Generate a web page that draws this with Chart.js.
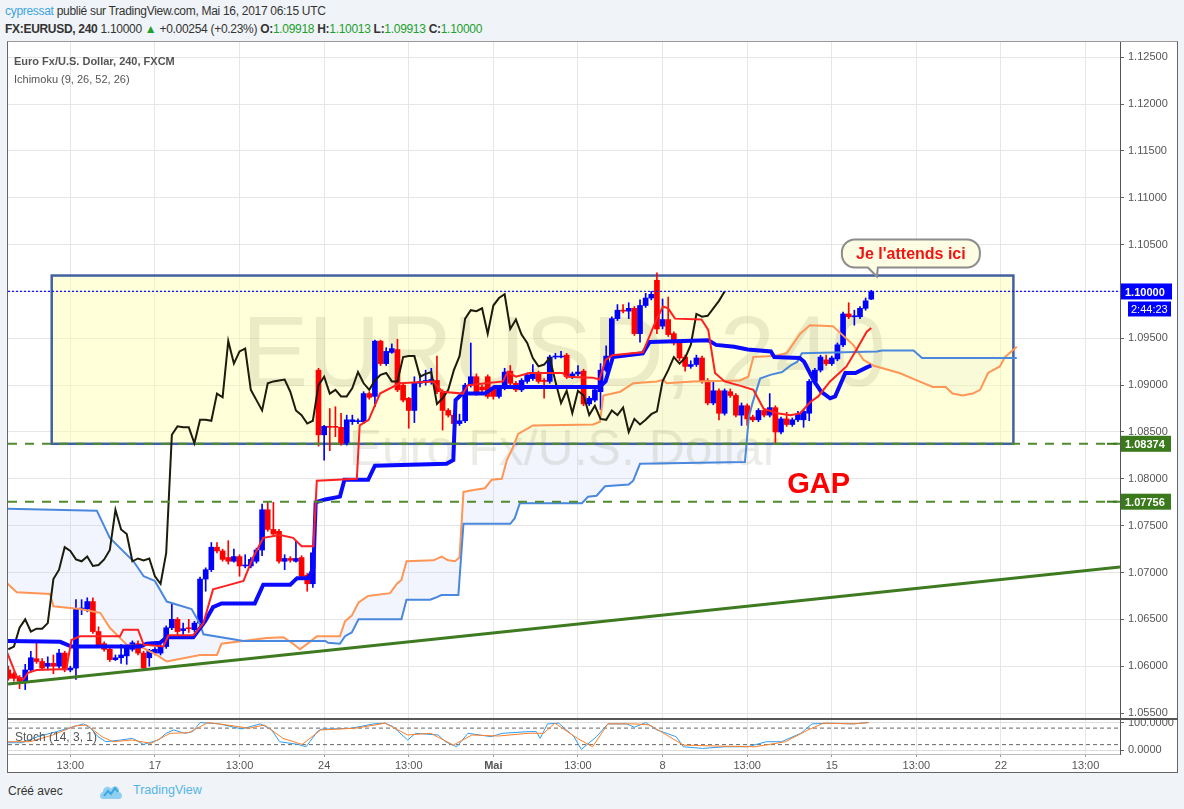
<!DOCTYPE html>
<html lang="fr">
<head>
<meta charset="UTF-8">
<title>EURUSD 240 - Ichimoku</title>
<script src="https://cdn.jsdelivr.net/npm/chart.js"></script>
<style>
    body {
        margin: 0;
        width: 1184px;
        height: 809px;
        background: #f0f3f7;
        font-family: Arial, "Liberation Sans", sans-serif;
        color: #333;
        position: relative;
        overflow: hidden;
    }
    .abs { position: absolute; white-space: nowrap; }
    .g { color: #22a02c; }
    .hdr { font-size: 12px; letter-spacing: -0.3px; }
    #frame {
        left: 7px; top: 41px; width: 1171px; height: 732px;
        background: #fff; border: 1px solid #666; border-top-color: #999; box-sizing: border-box;
    }
    #mainChart { left: 0; top: 0; z-index: 2; }
    #stochChart { left: 0; top: 700px; z-index: 3; }
    #sep { left: 7px; top: 718px; width: 1171px; height: 2px; background: #555; z-index: 4; }
    .lbl { z-index: 5; color: #555; font-size: 11px; }
</style>
</head>
<body>
    <div class="abs hdr" style="left:5px;top:4px;"><span style="color:#3ba5df">cypressat</span> publié sur TradingView.com, Mai 16, 2017 06:15 UTC</div>
    <div class="abs hdr" style="left:5px;top:22px;"><b>FX:EURUSD, 240</b> 1.10000 <span class="g">▲</span> +0.00254 (+0.23%) <b>O:</b><span class="g">1.09918</span> <b>H:</b><span class="g">1.10013</span> <b>L:</b><span class="g">1.09913</span> <b>C:</b><span class="g">1.10000</span></div>

    <div id="frame" class="abs"></div>
    <canvas id="mainChart" class="abs" width="1184" height="740"></canvas>
    <canvas id="stochChart" class="abs" width="1184" height="80"></canvas>
    <div id="sep" class="abs"></div>

    <div class="abs lbl" style="left:14px;top:55px;font-weight:bold;">Euro Fx/U.S. Dollar, 240, FXCM</div>
    <div class="abs lbl" style="left:14px;top:73px;">Ichimoku (9, 26, 52, 26)</div>
    <div class="abs lbl" style="left:15px;top:730px;font-size:12px;">Stoch (14, 3, 1)</div>

    <div class="abs" style="left:8px;top:784px;font-size:12px;color:#333;">Créé avec</div>
    <svg class="abs" style="left:99px;top:782px;" width="24" height="18" viewBox="0 0 24 18">
        <path d="M4 17 C0 17 0 11 4 10 C4 5 10 3 12 7 C14 3 21 4 20 10 C24 11 24 17 20 17 Z" fill="#8fd0f2"/>
        <path d="M5 14 L9 9 L12 12 L16 6 L19 10" stroke="#3aa6e0" stroke-width="2" fill="none"/>
    </svg>
    <div class="abs" style="left:133px;top:783px;font-size:12.5px;color:#55b5e6;">TradingView</div>

    <script>
        // x axis = bar index (4h bars, weekends skipped)
        const tickBars = [11, 26, 41, 56, 71, 86, 101, 116, 131, 146, 161, 176, 191];
        const tickLabels = ['13:00', '17', '13:00', '24', '13:00', 'Mai', '13:00', '8', '13:00', '15', '13:00', '22', '13:00'];

        const open = [
            1.0596, 1.0592, 1.0588, 1.0584, 1.0596, 1.0608, 1.0605, 1.0600, 1.0603, 1.0600,
            1.0614, 1.0596, 1.0598, 1.0661, 1.0661, 1.0669, 1.0637, 1.0624, 1.0618, 1.0607,
            1.0609, 1.0611, 1.0618, 1.0624, 1.0614, 1.0609, 1.0614, 1.0614, 1.0621, 1.0641,
            1.0650, 1.0638, 1.0641, 1.0639, 1.0646, 1.0693, 1.0703, 1.0727, 1.0723, 1.0716,
            1.0712, 1.0717, 1.0707, 1.0707, 1.0712, 1.0724, 1.0767, 1.0746, 1.0744, 1.0712,
            1.0715, 1.0712, 1.0716, 1.0697, 1.0688, 1.0916, 1.0847, 1.0856, 1.0856, 1.0855,
            1.0838, 1.0861, 1.0861, 1.0861, 1.0891, 1.0888, 1.0947, 1.0923, 1.0935, 1.0938,
            1.0900, 1.0886, 1.0873, 1.0902, 1.0903, 1.0904, 1.0905, 1.0893, 1.0873, 1.0868,
            1.0859, 1.0862, 1.0900, 1.0909, 1.0898, 1.0909, 1.0897, 1.0888, 1.0897, 1.0915,
            1.0902, 1.0895, 1.0904, 1.0907, 1.0913, 1.0905, 1.0904, 1.0930, 1.0930, 1.0932,
            1.0909, 1.0912, 1.0915, 1.0880, 1.0884, 1.0893, 1.0916, 1.0930, 1.0971, 1.0980,
            1.0979, 1.0982, 1.0955, 1.0985, 1.0993, 1.1012, 1.0963, 1.0970, 1.0955, 1.0945,
            1.0930, 1.0920, 1.0922, 1.0929, 1.0905, 1.0881, 1.0894, 1.0870, 1.0893, 1.0889,
            1.0868, 1.0878, 1.0866, 1.0863, 1.0873, 1.0868, 1.0876, 1.0850, 1.0864, 1.0858,
            1.0863, 1.0863, 1.0870, 1.0904, 1.0916, 1.0927, 1.0923, 1.0928, 1.0943, 1.0976,
            1.0973, 1.0973, 1.0982, 1.09918
        ];
        const high = [
            1.0600, 1.0594, 1.0590, 1.0602, 1.0616, 1.0627, 1.0608, 1.0610, 1.0612, 1.0618,
            1.0616, 1.0600, 1.0671, 1.0671, 1.0673, 1.0673, 1.0642, 1.0626, 1.0620, 1.0612,
            1.0623, 1.0623, 1.0627, 1.0627, 1.0616, 1.0618, 1.0620, 1.0623, 1.0643, 1.0666,
            1.0652, 1.0646, 1.0650, 1.0648, 1.0695, 1.0705, 1.0732, 1.0732, 1.0725, 1.0734,
            1.0725, 1.0719, 1.0719, 1.0716, 1.0726, 1.0773, 1.0775, 1.0775, 1.0746, 1.0719,
            1.0717, 1.0734, 1.0718, 1.0699, 1.0725, 1.0918, 1.0857, 1.0875, 1.0877, 1.0870,
            1.0868, 1.0868, 1.0864, 1.0893, 1.0893, 1.0948, 1.0948, 1.0940, 1.0944, 1.0949,
            1.0902, 1.0887, 1.0909, 1.0912, 1.0916, 1.0918, 1.0931, 1.0895, 1.0875, 1.0870,
            1.0869, 1.0902, 1.0945, 1.0912, 1.0900, 1.0911, 1.0899, 1.0899, 1.0918, 1.0921,
            1.0904, 1.0907, 1.0913, 1.0922, 1.0915, 1.0907, 1.0932, 1.0934, 1.0936, 1.0934,
            1.0914, 1.0921, 1.0917, 1.0888, 1.0897, 1.0923, 1.0942, 1.0973, 1.0986, 1.0986,
            1.0988, 1.0984, 1.0991, 1.0998, 1.1000, 1.1020, 1.0992, 1.0994, 1.0957, 1.0947,
            1.0932, 1.0926, 1.0932, 1.0931, 1.0907, 1.0904, 1.0896, 1.0896, 1.0896, 1.0891,
            1.0881, 1.0880, 1.0868, 1.0875, 1.0875, 1.0891, 1.0878, 1.0866, 1.0871, 1.0865,
            1.0872, 1.0874, 1.0906, 1.0918, 1.0932, 1.0932, 1.0931, 1.0945, 1.0978, 1.0988,
            1.0980, 1.0984, 1.0993, 1.10013
        ];
        const low = [
            1.0585, 1.0584, 1.0576, 1.0575, 1.0594, 1.0603, 1.0596, 1.0596, 1.0592, 1.0598,
            1.0594, 1.0594, 1.0586, 1.0655, 1.0658, 1.0635, 1.0621, 1.0616, 1.0605, 1.0606,
            1.0603, 1.0602, 1.0616, 1.0612, 1.0596, 1.0600, 1.0612, 1.0612, 1.0619, 1.0639,
            1.0634, 1.0634, 1.0636, 1.0637, 1.0644, 1.0680, 1.0701, 1.0721, 1.0712, 1.0709,
            1.0711, 1.0696, 1.0705, 1.0705, 1.0710, 1.0718, 1.0744, 1.0739, 1.0710, 1.0703,
            1.0711, 1.0711, 1.0694, 1.0680, 1.0684, 1.0835, 1.0820, 1.0830, 1.0845, 1.0836,
            1.0836, 1.0858, 1.0859, 1.0859, 1.0885, 1.0877, 1.0921, 1.0921, 1.0934, 1.0893,
            1.0882, 1.0854, 1.0860, 1.0898, 1.0900, 1.0901, 1.0891, 1.0852, 1.0866, 1.0857,
            1.0857, 1.0860, 1.0898, 1.0889, 1.0893, 1.0886, 1.0885, 1.0886, 1.0895, 1.0900,
            1.0893, 1.0893, 1.0902, 1.0905, 1.0902, 1.0886, 1.0902, 1.0928, 1.0929, 1.0907,
            1.0907, 1.0910, 1.0878, 1.0878, 1.0882, 1.0874, 1.0914, 1.0928, 1.0969, 1.0977,
            1.0971, 1.0953, 1.0946, 1.0983, 1.0991, 1.0955, 1.0960, 1.0952, 1.0943, 1.0926,
            1.0915, 1.0918, 1.0920, 1.0902, 1.0879, 1.0879, 1.0863, 1.0868, 1.0887, 1.0866,
            1.0857, 1.0857, 1.0861, 1.0861, 1.0866, 1.0866, 1.0838, 1.0848, 1.0856, 1.0856,
            1.0861, 1.0855, 1.0862, 1.0902, 1.0914, 1.0921, 1.0921, 1.0926, 1.0941, 1.0971,
            1.0964, 1.0971, 1.0980, 1.09913
        ];
        const close = [
            1.0587, 1.0587, 1.0584, 1.0596, 1.0609, 1.0605, 1.0598, 1.0603, 1.0600, 1.0614,
            1.0596, 1.0598, 1.0661, 1.0662, 1.0669, 1.0637, 1.0623, 1.0618, 1.0607, 1.0609,
            1.0612, 1.0621, 1.0625, 1.0614, 1.0598, 1.0617, 1.0618, 1.0621, 1.0641, 1.0650,
            1.0637, 1.0640, 1.0640, 1.0646, 1.0693, 1.0703, 1.0727, 1.0723, 1.0714, 1.0712,
            1.0717, 1.0707, 1.0708, 1.0714, 1.0724, 1.0767, 1.0746, 1.0741, 1.0712, 1.0715,
            1.0713, 1.0715, 1.0696, 1.0688, 1.0721, 1.0847, 1.0856, 1.0855, 1.0855, 1.0838,
            1.0863, 1.0863, 1.0862, 1.0891, 1.0887, 1.0947, 1.0923, 1.0936, 1.0939, 1.0895,
            1.0884, 1.0873, 1.0902, 1.0904, 1.0905, 1.0906, 1.0893, 1.0873, 1.0868, 1.0859,
            1.0862, 1.0900, 1.0909, 1.0891, 1.0895, 1.0888, 1.0888, 1.0897, 1.0914, 1.0902,
            1.0895, 1.0905, 1.0911, 1.0913, 1.0904, 1.0904, 1.0930, 1.0931, 1.0931, 1.0909,
            1.0912, 1.0914, 1.0880, 1.0886, 1.0895, 1.0916, 1.0931, 1.0971, 1.0980, 1.0979,
            1.0982, 1.0955, 1.0985, 1.0993, 1.0997, 1.0960, 1.0970, 1.0954, 1.0945, 1.0929,
            1.0920, 1.0922, 1.0929, 1.0904, 1.0881, 1.0894, 1.0870, 1.0894, 1.0889, 1.0868,
            1.0878, 1.0864, 1.0863, 1.0873, 1.0868, 1.0876, 1.0850, 1.0864, 1.0858, 1.0863,
            1.0869, 1.0872, 1.0904, 1.0916, 1.0930, 1.0923, 1.0929, 1.0943, 1.0976, 1.0973,
            1.0974, 1.0982, 1.0990, 1.10000
        ];

        // Ichimoku lines, [bar, price]
        const tenkan = [[-0.3,1.0616],[1.5,1.0589],[2.7,1.0586],[3.5,1.0593],[5,1.0596],[10.3,1.0597],[11.2,1.0628],[12.7,1.0632],[19.8,1.0632],[20.4,1.0639],[23,1.0639],[24,1.0623],[27.5,1.0621],[28.4,1.0633],[32.8,1.0633],[34.6,1.0646],[36.3,1.0682],[38.7,1.0686],[41.7,1.0691],[43.4,1.0716],[45.2,1.0737],[48.2,1.0740],[50.5,1.0737],[52,1.0728],[54.1,1.0728],[54.7,1.0798],[61.8,1.0800],[62.3,1.0857],[63.9,1.0863],[65.9,1.0891],[69.4,1.0902],[75.3,1.0904],[77,1.0893],[80.6,1.0891],[81.5,1.0900],[84.7,1.0902],[87.7,1.0904],[88.5,1.0914],[90,1.0909],[92.4,1.0913],[98.3,1.0913],[98.9,1.0909],[103.6,1.0908],[104.8,1.0906],[105.9,1.0927],[107.1,1.0932],[110.6,1.0934],[112.5,1.0935],[114.9,1.0970],[116.1,1.0984],[117,1.0982],[118.2,1.0971],[122.9,1.0970],[124.1,1.0959],[125.3,1.0913],[127,1.0904],[130,1.0899],[132.1,1.0895],[133.9,1.0875],[136.3,1.0870],[138.7,1.0868],[140.4,1.0870],[142.2,1.0882],[143.6,1.0888],[145.7,1.0904],[148.6,1.0920],[150.4,1.0938],[152.2,1.0957],[153,1.0961]];
        const kijun = [[-0.3,1.0627],[9.2,1.0626],[11.2,1.0621],[23.4,1.0621],[24.5,1.0624],[26.9,1.0625],[28.1,1.0631],[32.8,1.0631],[34.9,1.0648],[36.3,1.0663],[37.8,1.0667],[43.7,1.0667],[45.2,1.0687],[50,1.0687],[51.2,1.0694],[53.2,1.0694],[54.1,1.0705],[54.5,1.0775],[56.2,1.0778],[58.8,1.0781],[59.6,1.0799],[63.8,1.0799],[65,1.0814],[77.7,1.0816],[78.9,1.0820],[79.3,1.0884],[80.5,1.0891],[84.5,1.0891],[86.2,1.0898],[104.8,1.0898],[105.9,1.0904],[107.2,1.0930],[112.5,1.0934],[113.7,1.0946],[124.1,1.0948],[125.5,1.0943],[128.7,1.0941],[131.1,1.0938],[135.2,1.0936],[135.8,1.0930],[140.3,1.0929],[141.1,1.0925],[142.9,1.0904],[144.1,1.0893],[145.7,1.0886],[146.6,1.0888],[148.4,1.0913],[150.2,1.0913],[152.2,1.0919],[153,1.0921]];
        const senkouA = [[-0.3,1.0689],[1.5,1.0679],[7.4,1.0677],[8,1.0664],[12.7,1.0661],[16.3,1.0657],[18,1.0641],[21,1.0623],[23.4,1.0621],[26.3,1.0612],[28.1,1.0605],[34,1.0612],[37,1.0612],[37.8,1.0624],[45.8,1.0630],[48.8,1.0631],[50.5,1.0624],[51.7,1.0618],[53.5,1.0626],[54.7,1.0632],[58.8,1.0632],[59.7,1.0648],[60.9,1.0654],[62.1,1.0668],[63.8,1.0675],[67.7,1.0678],[68.9,1.0688],[69.7,1.0692],[70.6,1.0712],[75.4,1.0713],[76.8,1.0717],[78,1.0713],[79.2,1.0712],[80,1.0716],[80.7,1.0786],[82.5,1.0788],[84.5,1.0790],[85.7,1.0799],[87.5,1.0800],[88.4,1.0820],[89.5,1.0834],[90.4,1.0848],[93,1.0857],[103.7,1.0858],[104.9,1.0861],[105.5,1.0889],[108.5,1.0893],[110.8,1.0902],[115,1.0904],[116.1,1.0906],[116.7,1.0902],[121.4,1.0904],[129.7,1.0905],[131.2,1.0909],[132.1,1.0930],[135.6,1.0931],[138,1.0934],[140.4,1.0955],[142.1,1.0964],[146.2,1.0963],[149.8,1.0943],[151.6,1.0927],[153.3,1.0921],[158,1.0913],[161.5,1.0904],[163.9,1.0898],[166.2,1.0898],[167.4,1.0891],[169.2,1.0889],[171,1.0891],[172.3,1.0895],[173.7,1.0913],[175.8,1.0920],[176.7,1.0930],[178.8,1.0941]];
        const senkouB = [[-0.3,1.0768],[15.7,1.0766],[18,1.0737],[22.2,1.0712],[24,1.0696],[26,1.0691],[28.1,1.0669],[32.5,1.0661],[34,1.0645],[34.6,1.0634],[41.7,1.0627],[56.2,1.0627],[56.7,1.0625],[58.8,1.0624],[59.7,1.0632],[60.9,1.0636],[62.1,1.0650],[69.7,1.0650],[70.6,1.0671],[74.8,1.0671],[75.7,1.0673],[76.8,1.0676],[79.8,1.0676],[80.7,1.0752],[89,1.0752],[89.8,1.0758],[90.7,1.0774],[101.7,1.0774],[102.8,1.0781],[104.3,1.0782],[105.8,1.0792],[110,1.0794],[110.8,1.0798],[112,1.0816],[130.6,1.0818],[131.3,1.0866],[131.9,1.0880],[133.3,1.0907],[135.1,1.0911],[137.2,1.0914],[138.7,1.0921],[139.9,1.0925],[140.7,1.0934],[154,1.0936],[154.9,1.0937],[160.5,1.0937],[162,1.0929],[178.8,1.0929]];
        const chikouShift = 26;

        const trendLine = [[-0.05, 1.0581], [197.1, 1.0706]];
        const levels = [1.08374, 1.07756];
        const lastPrice = 1.10000;
        const boxBars = [7.7, 178.2];
        const boxPrices = [1.08374, 1.1017];

        // Stochastic (14, 3, 1), [bar, value]
        const stochK = [[-0.1,26.9],[2.5,26.9],[5.2,48.9],[8.6,67.2],[10.6,79.4],[13.3,95.3],[14.6,79.4],[15.9,48.9],[17.3,30.6],[19.9,36.7],[22,42.8],[24,20.8],[26.6,36.7],[28,61.1],[29.3,73.3],[31.3,61.1],[32.7,67.2],[34,100],[37.4,95.3],[41.4,77],[44.7,95.3],[46.7,73.3],[48.1,30.6],[51.4,20.8],[52.8,12.3],[54.8,67.2],[55.4,75.8],[60.8,79.4],[64.8,95.3],[66.8,97.7],[68.2,85.5],[70.8,36.7],[72.2,61.1],[76.2,55],[77.5,30.6],[79.5,12.3],[81.5,61.1],[85.6,48.9],[87.6,61.1],[92.3,67.2],[93.6,67.2],[94.3,42.8],[95.6,95.3],[97.6,97.7],[100.3,48.9],[101.6,2.5],[104.3,48.9],[106.3,95.3],[109.7,95.3],[111,83],[113,100],[115,73.3],[118.4,48.9],[119.7,12.3],[123.1,6.2],[127.1,12.3],[131.1,12.3],[134.4,30.6],[137.1,30.6],[140.5,61.1],[142.5,95.3],[145.8,97.7],[149.8,95.3],[152.5,100]];
        const stochD = [[-0.1,30.6],[3.9,30.6],[7.9,55],[11.9,88],[13.9,91.6],[16.6,48.9],[18.6,30.6],[22,36.7],[25.3,24.5],[28.7,61.1],[32,63.5],[35.4,100],[38.7,91.6],[42.7,79.4],[45.4,91.6],[48.7,42.8],[52.1,20.8],[55.4,73.3],[61.5,79.4],[66.8,97.7],[70.8,55],[74.9,61.1],[78.9,18.4],[82.2,55],[86.9,51.3],[92.3,61.1],[94.9,61.1],[96.9,97.7],[100.9,42.8],[103.6,12.3],[106.3,95.3],[111,95.3],[113.7,91.6],[119.7,18.4],[125.7,14.7],[132.4,12.3],[137.8,30.6],[141.8,73.3],[144.5,97.7],[149.8,95.3],[152.5,100]];
        const stochLevels = [20, 80];

        const X_MIN = -0.05, X_MAX = 197.1;
        const FONT = 'Arial, "Liberation Sans", sans-serif';
        Chart.defaults.font.family = FONT;

        const pts = arr => arr.map(p => ({ x: p[0], y: p[1] }));
        const hline = v => [{ x: X_MIN, y: v }, { x: X_MAX, y: v }];
        const idx = close.map((c, i) => i);
        const candleColor = idx.map(i => close[i] >= open[i] ? '#0000ff' : '#ff0000');

        function lineDs(data, color, width, order, extra) {
            return Object.assign({
                type: 'line', data: data, borderColor: color, borderWidth: width,
                pointRadius: 0, tension: 0, fill: false, order: order
            }, extra || {});
        }

        function xScale(showLabels) {
            return {
                type: 'linear', min: X_MIN, max: X_MAX, offset: false,
                afterBuildTicks: s => { s.ticks = tickBars.map(v => ({ value: v })); },
                grid: { color: '#e6e6e6', drawTicks: showLabels, tickLength: 3, tickColor: '#999', offset: false },
                border: { display: showLabels, color: '#bbb' },
                ticks: {
                    display: showLabels, autoSkip: false, maxRotation: 0, padding: 2, color: '#555',
                    font: c => ({ size: 11, weight: tickLabels[c.index] === 'Mai' ? 'bold' : 'normal' }),
                    callback: (v, i) => tickLabels[i]
                },
                afterFit: s => { s.height = showLabels ? 18 : 0; }
            };
        }

        const boxPlugin = {
            id: 'box',
            beforeDatasetsDraw(chart) {
                const { ctx, chartArea: a, scales: { x, y } } = chart;
                ctx.save();
                ctx.beginPath();
                ctx.rect(a.left, a.top, a.width, a.height);
                ctx.clip();
                const l = x.getPixelForValue(boxBars[0]), r = x.getPixelForValue(boxBars[1]);
                const t = y.getPixelForValue(boxPrices[1]), b = y.getPixelForValue(boxPrices[0]);
                ctx.fillStyle = 'rgba(255,255,170,0.45)';
                ctx.fillRect(l, t, r - l, b - t);
                // watermark
                const cx = (a.left + a.right) / 2;
                ctx.fillStyle = 'rgba(90,90,60,0.12)';
                ctx.textAlign = 'center';
                ctx.textBaseline = 'alphabetic';
                ctx.font = '100px ' + FONT;
                ctx.fillText('EURUSD, 240', cx, 386);
                ctx.font = '50px ' + FONT;
                ctx.fillText('Euro Fx/U.S. Dollar', cx, 465);
                ctx.strokeStyle = '#4261a3';
                ctx.lineWidth = 2.5;
                ctx.strokeRect(l, t, r - l, b - t);
                ctx.restore();
            }
        };

        const overlayPlugin = {
            id: 'overlay',
            afterDraw(chart) {
                const { ctx, scales: { x, y } } = chart;
                ctx.save();
                // GAP
                ctx.fillStyle = '#ff0000';
                ctx.font = 'bold 29px ' + FONT;
                ctx.textAlign = 'left';
                ctx.textBaseline = 'middle';
                ctx.fillText('GAP', x.getPixelForValue(138.1), y.getPixelForValue(1.0793));

                // speech bubble
                const tipX = x.getPixelForValue(154), tipY = y.getPixelForValue(1.1016);
                const bl = tipX - 35, bt = tipY - 37, bw = 138, bh = 28, rr = 13;
                ctx.beginPath();
                ctx.moveTo(bl + rr, bt);
                ctx.lineTo(bl + bw - rr, bt);
                ctx.arcTo(bl + bw, bt, bl + bw, bt + rr, rr);
                ctx.arcTo(bl + bw, bt + bh, bl + bw - rr, bt + bh, rr);
                ctx.lineTo(tipX + 1, bt + bh);
                ctx.lineTo(tipX, tipY);
                ctx.lineTo(tipX - 9, bt + bh);
                ctx.lineTo(bl + rr, bt + bh);
                ctx.arcTo(bl, bt + bh, bl, bt + bh - rr, rr);
                ctx.arcTo(bl, bt, bl + rr, bt, rr);
                ctx.closePath();
                ctx.fillStyle = '#fdfde3';
                ctx.fill();
                ctx.strokeStyle = '#8c8c8c';
                ctx.lineWidth = 2;
                ctx.stroke();
                ctx.fillStyle = '#f01414';
                ctx.font = 'bold 16px ' + FONT;
                ctx.textAlign = 'center';
                ctx.fillText("Je l'attends ici", bl + bw / 2, bt + bh / 2 + 1);

                // price scale tags
                const ax = chart.chartArea.right + 1;
                ctx.textAlign = 'left';
                levels.forEach(v => {
                    const py = y.getPixelForValue(v);
                    ctx.strokeStyle = '#3b7a1c';
                    ctx.lineWidth = 2;
                    ctx.beginPath();
                    ctx.moveTo(ax - 14, py);
                    ctx.lineTo(ax - 4, py);
                    ctx.stroke();
                    ctx.fillStyle = '#3b7a1c';
                    ctx.fillRect(ax, py - 8, 50, 16);
                    ctx.fillStyle = '#fff';
                    ctx.font = 'bold 11px ' + FONT;
                    ctx.fillText(v.toFixed(5), ax + 4, py + 1);
                });
                const ly = y.getPixelForValue(lastPrice);
                ctx.fillStyle = '#0000ff';
                ctx.fillRect(ax, ly - 8, 51, 16);
                ctx.fillRect(ax + 7, ly + 10, 43, 15);
                ctx.fillStyle = '#fff';
                ctx.font = 'bold 11px ' + FONT;
                ctx.fillText(lastPrice.toFixed(5), ax + 4, ly + 1);
                ctx.font = '11px ' + FONT;
                ctx.fillText('2:44:23', ax + 10, ly + 18);
                ctx.restore();
            }
        };

        const cloudFill = 'rgba(175,195,245,0.16)';

        new Chart(document.getElementById('mainChart'), {
            type: 'bar',
            data: {
                datasets: [
                    lineDs(pts(senkouB), '#4a88dd', 2, 4),
                    lineDs(pts(senkouA), '#ff9655', 2, 4, { fill: { target: 0, above: cloudFill, below: cloudFill } }),
                    {
                        type: 'bar', data: idx.map(i => ({ x: i, y: [low[i], high[i]] })),
                        backgroundColor: candleColor, barThickness: 1, grouped: false, order: 6
                    },
                    {
                        type: 'bar', data: idx.map(i => ({ x: i, y: [open[i], close[i]] })),
                        backgroundColor: candleColor, barThickness: 5, minBarLength: 1, grouped: false, order: 5
                    },
                    lineDs(idx.slice(chikouShift).map(i => ({ x: i - chikouShift, y: close[i] })), '#1c1c0c', 2, 3),
                    lineDs(pts(tenkan), '#ff2020', 2, 2),
                    lineDs(pts(kijun), '#0a0aff', 4, 2),
                    lineDs(hline(levels[0]), '#4f8a2e', 2, 1, { borderDash: [9, 8] }),
                    lineDs(hline(levels[1]), '#4f8a2e', 2, 1, { borderDash: [9, 8] }),
                    lineDs(pts(trendLine), '#3d7a20', 3, 1),
                    lineDs(hline(lastPrice), '#1010ff', 1.2, 1, { borderDash: [2, 2] })
                ]
            },
            options: {
                responsive: false,
                animation: false,
                events: [],
                layout: { padding: { left: 8, top: 42, right: 0, bottom: 22 } },
                plugins: {
                    legend: { display: false },
                    tooltip: { enabled: false },
                    filler: { drawTime: 'beforeDatasetsDraw' }
                },
                scales: {
                    x: xScale(false),
                    y: {
                        type: 'linear', position: 'right', min: 1.05447, max: 1.12663,
                        grid: { color: '#e6e6e6', tickColor: '#666', tickLength: 4 },
                        border: { color: '#555' },
                        ticks: {
                            stepSize: 0.005, includeBounds: false, padding: 4, color: '#555',
                            font: { size: 11 }, callback: v => v.toFixed(5)
                        },
                        afterFit: s => { s.width = 64; }
                    }
                }
            },
            plugins: [boxPlugin, overlayPlugin]
        });

        new Chart(document.getElementById('stochChart'), {
            type: 'line',
            data: {
                datasets: [
                    lineDs(pts(stochK), '#2f9cf0', 1, 2),
                    lineDs(pts(stochD), '#ff7f27', 1, 1),
                    lineDs(hline(stochLevels[0]), '#666', 1, 3, { borderDash: [4, 3] }),
                    lineDs(hline(stochLevels[1]), '#666', 1, 3, { borderDash: [4, 3] })
                ]
            },
            options: {
                responsive: false,
                animation: false,
                events: [],
                layout: { padding: { left: 8, top: 19, right: 0, bottom: 8 } },
                plugins: { legend: { display: false }, tooltip: { enabled: false } },
                scales: {
                    x: xScale(true),
                    y: {
                        type: 'linear', position: 'right', min: -14, max: 113,
                        afterBuildTicks: s => { s.ticks = [{ value: 0 }, { value: 100 }]; },
                        grid: { color: '#dddddd', tickColor: '#666', tickLength: 4 },
                        border: { color: '#555' },
                        ticks: { padding: 4, color: '#555', font: { size: 11 }, callback: v => v.toFixed(4) },
                        afterFit: s => { s.width = 64; }
                    }
                }
            }
        });
    </script>
</body>
</html>
